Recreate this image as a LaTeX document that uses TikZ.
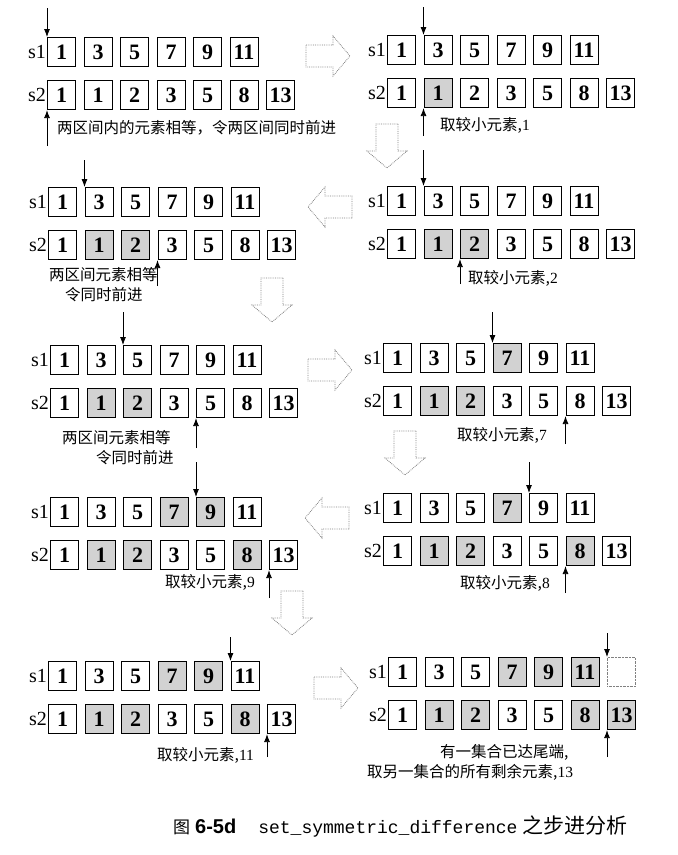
\documentclass[tikz,border=0pt]{standalone}
\usepackage{fontspec}
\setmainfont{Liberation Serif}
\setmonofont{Liberation Mono}
\newfontfamily\cjk{Noto Sans CJK SC}
\newfontfamily\headsans{Liberation Sans}
\usetikzlibrary{arrows.meta}
\usetikzlibrary{positioning}

\begin{document}
\begin{tikzpicture}[x=1pt, y=-1pt,
	cell/.style={draw, line width=1.1pt, minimum width=28pt, minimum height=29pt, inner sep=0pt, anchor=north west, font=\fontsize{22}{22}\selectfont\bfseries},
	gcell/.style={cell, fill=gray!35},
	ecell/.style={cell, draw=gray, thin, densely dotted},
	setname/.style={inner sep=0pt, font=\fontsize{20}{20}\selectfont},
	note/.style={anchor=west, inner sep=0pt, font=\cjk\fontsize{15.5}{17}\selectfont},
	ptr/.style={thick, -{Latex[length=8pt, width=6pt]}},
	hollow/.style={draw=gray, densely dotted, thick, line join=miter},
	stepper/.pic={\draw[hollow] (-44,-11) -- (-17,-11) -- (-17,-20) -- (0,0) -- (-17,20) -- (-17,11) -- (-44,11) -- cycle;}
	]

	\useasboundingbox (0,0) rectangle (678,855);

	\def\pitch{36.5} % distance between cells
	\def\rowgap{43} % s1 row to s2 row

	% step 1
	\def\xa{47} \def\ya{37}
	\foreach \v/\c [count=\i] in {1/cell,3/cell,5/cell,7/cell,9/cell,11/cell}
		\node[\c] (p1a\i) at ({\xa+(\i-1)*\pitch}, \ya) {\v};
	\foreach \v/\c [count=\i] in {1/cell,1/cell,2/cell,3/cell,5/cell,8/cell,13/cell}
		\node[\c] (p1b\i) at ({\xa+(\i-1)*\pitch}, \ya+\rowgap) {\v};
	\node[setname, left=1pt of p1a1] (p1s1) {s1};
	\node[setname, left=1pt of p1b1] (p1s2) {s2};
	\path (p1a1.north west) ++(0,-29) coordinate (p1top);
	\path (p1b1.south west) ++(0,36) coordinate (p1bot);
	\draw[ptr] (p1top) -- (p1a1.north west);
	\draw[ptr] (p1bot) -- (p1b1.south west);
	\node[note] (p1n) at (57,128) {两区间内的元素相等，令两区间同时前进};

	% step 2
	\def\xa{387} \def\ya{35}
	\foreach \v/\c [count=\i] in {1/cell,3/cell,5/cell,7/cell,9/cell,11/cell}
		\node[\c] (p2a\i) at ({\xa+(\i-1)*\pitch}, \ya) {\v};
	\foreach \v/\c [count=\i] in {1/cell,1/gcell,2/cell,3/cell,5/cell,8/cell,13/cell}
		\node[\c] (p2b\i) at ({\xa+(\i-1)*\pitch}, \ya+\rowgap) {\v};
	\node[setname, left=1pt of p2a1] (p2s1) {s1};
	\node[setname, left=1pt of p2b1] (p2s2) {s2};
	\path (p2a2.north west) ++(0,-28) coordinate (p2top);
	\path (p2b2.south west) ++(0,28) coordinate (p2bot);
	\draw[ptr] (p2top) -- (p2a2.north west);
	\draw[ptr] (p2bot) -- (p2b2.south west);
	\node[note] (p2n) at (440,125) {取较小元素,{\rmfamily 1}};

	% step 3
	\def\xa{48} \def\ya{187}
	\foreach \v/\c [count=\i] in {1/cell,3/cell,5/cell,7/cell,9/cell,11/cell}
		\node[\c] (p3a\i) at ({\xa+(\i-1)*\pitch}, \ya) {\v};
	\foreach \v/\c [count=\i] in {1/cell,1/gcell,2/gcell,3/cell,5/cell,8/cell,13/cell}
		\node[\c] (p3b\i) at ({\xa+(\i-1)*\pitch}, \ya+\rowgap) {\v};
	\node[setname, left=1pt of p3a1] (p3s1) {s1};
	\node[setname, left=1pt of p3b1] (p3s2) {s2};
	\path (p3a2.north west) ++(0,-27) coordinate (p3top);
	\path (p3b4.south west) ++(0,26) coordinate (p3bot);
	\draw[ptr] (p3top) -- (p3a2.north west);
	\draw[ptr] (p3bot) -- (p3b4.south west);
	\node[note] (p3n) at (49,275) {两区间元素相等};
	\node[note] (p3m) at (65,295) {令同时前进};

	% step 4
	\def\xa{387} \def\ya{186}
	\foreach \v/\c [count=\i] in {1/cell,3/cell,5/cell,7/cell,9/cell,11/cell}
		\node[\c] (p4a\i) at ({\xa+(\i-1)*\pitch}, \ya) {\v};
	\foreach \v/\c [count=\i] in {1/cell,1/gcell,2/gcell,3/cell,5/cell,8/cell,13/cell}
		\node[\c] (p4b\i) at ({\xa+(\i-1)*\pitch}, \ya+\rowgap) {\v};
	\node[setname, left=1pt of p4a1] (p4s1) {s1};
	\node[setname, left=1pt of p4b1] (p4s2) {s2};
	\path (p4a2.north west) ++(0,-36) coordinate (p4top);
	\path (p4b3.south west) ++(0,25) coordinate (p4bot);
	\draw[ptr] (p4top) -- (p4a2.north west);
	\draw[ptr] (p4bot) -- (p4b3.south west);
	\node[note] (p4n) at (468,278) {取较小元素,{\rmfamily 2}};

	% step 5
	\def\xa{50} \def\ya{345}
	\foreach \v/\c [count=\i] in {1/cell,3/cell,5/cell,7/cell,9/cell,11/cell}
		\node[\c] (p5a\i) at ({\xa+(\i-1)*\pitch}, \ya) {\v};
	\foreach \v/\c [count=\i] in {1/cell,1/gcell,2/gcell,3/cell,5/cell,8/cell,13/cell}
		\node[\c] (p5b\i) at ({\xa+(\i-1)*\pitch}, \ya+\rowgap) {\v};
	\node[setname, left=1pt of p5a1] (p5s1) {s1};
	\node[setname, left=1pt of p5b1] (p5s2) {s2};
	\path (p5a3.north west) ++(0,-33) coordinate (p5top);
	\path (p5b5.south west) ++(0,30) coordinate (p5bot);
	\draw[ptr] (p5top) -- (p5a3.north west);
	\draw[ptr] (p5bot) -- (p5b5.south west);
	\node[note] (p5n) at (62,438) {两区间元素相等};
	\node[note] (p5m) at (96,458) {令同时前进};

	% step 6
	\def\xa{383} \def\ya{343}
	\foreach \v/\c [count=\i] in {1/cell,3/cell,5/cell,7/gcell,9/cell,11/cell}
		\node[\c] (p6a\i) at ({\xa+(\i-1)*\pitch}, \ya) {\v};
	\foreach \v/\c [count=\i] in {1/cell,1/gcell,2/gcell,3/cell,5/cell,8/cell,13/cell}
		\node[\c] (p6b\i) at ({\xa+(\i-1)*\pitch}, \ya+\rowgap) {\v};
	\node[setname, left=1pt of p6a1] (p6s1) {s1};
	\node[setname, left=1pt of p6b1] (p6s2) {s2};
	\path (p6a4.north west) ++(0,-31) coordinate (p6top);
	\path (p6b6.south west) ++(0,28) coordinate (p6bot);
	\draw[ptr] (p6top) -- (p6a4.north west);
	\draw[ptr] (p6bot) -- (p6b6.south west);
	\node[note] (p6n) at (457,435) {取较小元素,{\rmfamily 7}};

	% step 7
	\def\xa{50} \def\ya{497}
	\foreach \v/\c [count=\i] in {1/cell,3/cell,5/cell,7/gcell,9/gcell,11/cell}
		\node[\c] (p7a\i) at ({\xa+(\i-1)*\pitch}, \ya) {\v};
	\foreach \v/\c [count=\i] in {1/cell,1/gcell,2/gcell,3/cell,5/cell,8/gcell,13/cell}
		\node[\c] (p7b\i) at ({\xa+(\i-1)*\pitch}, \ya+\rowgap) {\v};
	\node[setname, left=1pt of p7a1] (p7s1) {s1};
	\node[setname, left=1pt of p7b1] (p7s2) {s2};
	\path (p7a5.north west) ++(0,-35) coordinate (p7top);
	\path (p7b7.south west) ++(0,28) coordinate (p7bot);
	\draw[ptr] (p7top) -- (p7a5.north west);
	\draw[ptr] (p7bot) -- (p7b7.south west);
	\node[note] (p7n) at (165,582) {取较小元素,{\rmfamily 9}};

	% step 8
	\def\xa{383} \def\ya{493}
	\foreach \v/\c [count=\i] in {1/cell,3/cell,5/cell,7/gcell,9/cell,11/cell}
		\node[\c] (p8a\i) at ({\xa+(\i-1)*\pitch}, \ya) {\v};
	\foreach \v/\c [count=\i] in {1/cell,1/gcell,2/gcell,3/cell,5/cell,8/gcell,13/cell}
		\node[\c] (p8b\i) at ({\xa+(\i-1)*\pitch}, \ya+\rowgap) {\v};
	\node[setname, left=1pt of p8a1] (p8s1) {s1};
	\node[setname, left=1pt of p8b1] (p8s2) {s2};
	\path (p8a5.north west) ++(0,-31) coordinate (p8top);
	\path (p8b6.south west) ++(0,27) coordinate (p8bot);
	\draw[ptr] (p8top) -- (p8a5.north west);
	\draw[ptr] (p8bot) -- (p8b6.south west);
	\node[note] (p8n) at (460,583) {取较小元素,{\rmfamily 8}};

	% step 9
	\def\xa{48} \def\ya{661}
	\foreach \v/\c [count=\i] in {1/cell,3/cell,5/cell,7/gcell,9/gcell,11/cell}
		\node[\c] (p9a\i) at ({\xa+(\i-1)*\pitch}, \ya) {\v};
	\foreach \v/\c [count=\i] in {1/cell,1/gcell,2/gcell,3/cell,5/cell,8/gcell,13/cell}
		\node[\c] (p9b\i) at ({\xa+(\i-1)*\pitch}, \ya+\rowgap) {\v};
	\node[setname, left=1pt of p9a1] (p9s1) {s1};
	\node[setname, left=1pt of p9b1] (p9s2) {s2};
	\path (p9a6.north west) ++(0,-24) coordinate (p9top);
	\path (p9b7.south west) ++(0,23) coordinate (p9bot);
	\draw[ptr] (p9top) -- (p9a6.north west);
	\draw[ptr] (p9bot) -- (p9b7.south west);
	\node[note] (p9n) at (157,755) {取较小元素,{\rmfamily 11}};

	% step 10: s1 is exhausted
	\def\xa{388} \def\ya{657}
	\foreach \v/\c [count=\i] in {1/cell,3/cell,5/cell,7/gcell,9/gcell,11/gcell,{}/ecell}
		\node[\c] (p10a\i) at ({\xa+(\i-1)*\pitch}, \ya) {\v};
	\foreach \v/\c [count=\i] in {1/cell,1/gcell,2/gcell,3/cell,5/cell,8/gcell,13/gcell}
		\node[\c] (p10b\i) at ({\xa+(\i-1)*\pitch}, \ya+\rowgap) {\v};
	\node[setname, left=1pt of p10a1] (p10s1) {s1};
	\node[setname, left=1pt of p10b1] (p10s2) {s2};
	\path (p10a7.north west) ++(0,-24) coordinate (p10top);
	\path (p10b7.south west) ++(0,27) coordinate (p10bot);
	\draw[ptr] (p10top) -- (p10a7.north west);
	\draw[ptr] (p10bot) -- (p10b7.south west);
	\node[note] (p10n) at (440,752) {有一集合已达尾端,};
	\node[note] (p10m) at (367,772) {取另一集合的所有剩余元素,{\rmfamily 13}};

	% hollow step arrows
	\pic at (350,56) {stepper};
	\pic[rotate=-90] at (387,168) {stepper};
	\pic[rotate=180] at (308,207) {stepper};
	\pic[rotate=-90] at (272,322) {stepper};
	\pic at (352,370) {stepper};
	\pic[rotate=-90] at (405,475) {stepper};
	\pic[rotate=180] at (305,518) {stepper};
	\pic[rotate=-90] at (292,635) {stepper};
	\pic at (358,688) {stepper};

	% figure caption
	\node[anchor=west, inner sep=0pt] (figcap) at (173,826) {{\cjk\fontsize{17}{17}\selectfont 图}\hspace{5pt}{\headsans\bfseries\fontsize{20}{20}\selectfont 6-5d}\hspace{22pt}{\ttfamily\fontsize{18}{18}\selectfont set\_symmetric\_difference}\hspace{5pt}{\cjk\fontsize{21}{21}\selectfont 之步进分析}};

\end{tikzpicture}
\end{document}
